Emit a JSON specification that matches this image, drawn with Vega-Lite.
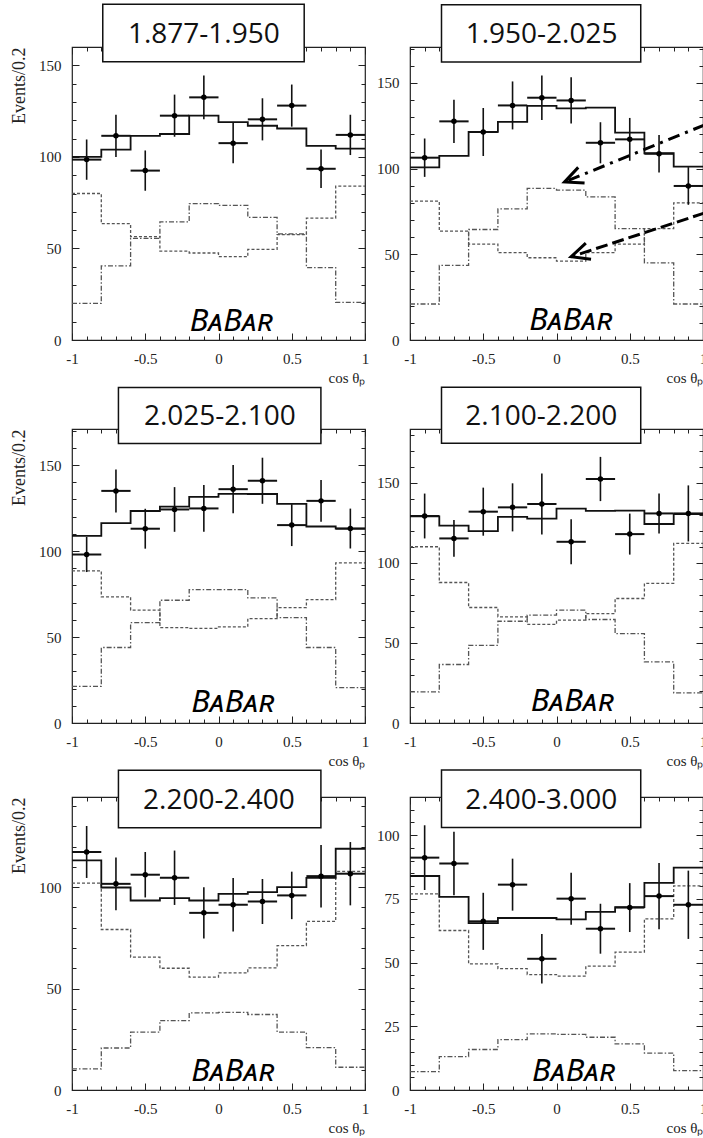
{
"$schema":"https://vega.github.io/schema/vega-lite/v6.json",
"background":"white",
"padding":{"left":9,"top":2,"right":0,"bottom":0},
"datasets":{
"h":[
{"p":1,"x":-1,"t":100,"a":80,"b":20},{"p":1,"x":-0.8,"t":104,"a":63.5,"b":40.5},{"p":1,"x":-0.6,"t":111.5,"a":56.5,"b":55.5},{"p":1,"x":-0.4,"t":112.5,"a":48.5,"b":64.5},{"p":1,"x":-0.2,"t":122.5,"a":47.5,"b":74.5},{"p":1,"x":0,"t":119,"a":45.5,"b":73.5},{"p":1,"x":0.2,"t":117,"a":49.5,"b":67},{"p":1,"x":0.4,"t":115.5,"a":57.5,"b":58},{"p":1,"x":0.6,"t":106,"a":66.5,"b":39.5},{"p":1,"x":0.8,"t":104.5,"a":84,"b":20.5},{"p":1,"x":1,"t":104.5,"a":84,"b":20.5},
{"p":2,"x":-1,"t":100.8,"a":81,"b":21},{"p":2,"x":-0.8,"t":107.5,"a":63.5,"b":43.5},{"p":2,"x":-0.6,"t":121.5,"a":56,"b":64.5},{"p":2,"x":-0.4,"t":127.3,"a":51,"b":76.5},{"p":2,"x":-0.2,"t":136.6,"a":48,"b":88.5},{"p":2,"x":0,"t":135.2,"a":46,"b":87.5},{"p":2,"x":0.2,"t":135.6,"a":51,"b":83.5},{"p":2,"x":0.4,"t":121,"a":56,"b":65},{"p":2,"x":0.6,"t":109,"a":65,"b":45},{"p":2,"x":0.8,"t":101.2,"a":80,"b":21},{"p":2,"x":1,"t":101.2,"a":80,"b":21},
{"p":3,"x":-1,"t":108.8,"a":88.5,"b":21.3},{"p":3,"x":-0.8,"t":116.2,"a":73.4,"b":43.9},{"p":3,"x":-0.6,"t":123.3,"a":65.6,"b":58.4},{"p":3,"x":-0.4,"t":125.8,"a":55.5,"b":71.4},{"p":3,"x":-0.2,"t":131.5,"a":55,"b":77.6},{"p":3,"x":0,"t":133.3,"a":55.9,"b":77.6},{"p":3,"x":0.2,"t":133.2,"a":60.7,"b":72.8},{"p":3,"x":0.4,"t":127.5,"a":67.1,"b":61.3},{"p":3,"x":0.6,"t":114.3,"a":71.8,"b":43.9},{"p":3,"x":0.8,"t":113.1,"a":93.1,"b":20.6},{"p":3,"x":1,"t":113.1,"a":93.1,"b":20.6},
{"p":4,"x":-1,"t":129,"a":110,"b":19.4},{"p":4,"x":-0.8,"t":123.2,"a":87.7,"b":36.5},{"p":4,"x":-0.6,"t":119.7,"a":72.1,"b":48.5},{"p":4,"x":-0.4,"t":128.6,"a":66.3,"b":63.5},{"p":4,"x":-0.2,"t":127.6,"a":61.5,"b":67.3},{"p":4,"x":0,"t":133.8,"a":64.2,"b":70.4},{"p":4,"x":0.2,"t":132.4,"a":68.3,"b":64.6},{"p":4,"x":0.4,"t":132.5,"a":77.7,"b":55.8},{"p":4,"x":0.6,"t":124.2,"a":87.1,"b":38.1},{"p":4,"x":0.8,"t":130.4,"a":112.1,"b":18.8},{"p":4,"x":1,"t":130.4,"a":112.1,"b":18.8},
{"p":5,"x":-1,"t":113.2,"a":102,"b":10.4},{"p":5,"x":-0.8,"t":99.8,"a":79.1,"b":20.7},{"p":5,"x":-0.6,"t":93.4,"a":65.5,"b":28.5},{"p":5,"x":-0.4,"t":94.6,"a":60,"b":34.2},{"p":5,"x":-0.2,"t":93.4,"a":55.6,"b":38},{"p":5,"x":0,"t":96.7,"a":57.7,"b":38.3},{"p":5,"x":0.2,"t":97.5,"a":60.2,"b":37.2},{"p":5,"x":0.4,"t":100,"a":71.2,"b":28.5},{"p":5,"x":0.6,"t":104.5,"a":83.1,"b":20.9},{"p":5,"x":0.8,"t":118.9,"a":107.7,"b":11.2},{"p":5,"x":1,"t":118.9,"a":107.7,"b":11.2},
{"p":6,"x":-1,"t":84,"a":77,"b":7.2},{"p":6,"x":-0.8,"t":75.8,"a":62.6,"b":13.1},{"p":6,"x":-0.6,"t":65.5,"a":49.5,"b":15.9},{"p":6,"x":-0.4,"t":67.5,"a":47.6,"b":19.8},{"p":6,"x":-0.2,"t":67.5,"a":45.3,"b":22},{"p":6,"x":0,"t":67,"a":44.7,"b":21.8},{"p":6,"x":0.2,"t":69.9,"a":48.6,"b":20.7},{"p":6,"x":0.4,"t":71.8,"a":54.1,"b":18.1},{"p":6,"x":0.6,"t":81.3,"a":67.2,"b":14.5},{"p":6,"x":0.8,"t":87.3,"a":80.1,"b":7.6},{"p":6,"x":1,"t":87.3,"a":80.1,"b":7.6}
],
"d":[
{"p":1,"x":-0.9,"y":98.5,"e":11,"ex":0.1},{"p":1,"x":-0.7,"y":111.5,"e":11.5,"ex":0.1},{"p":1,"x":-0.5,"y":92.5,"e":11,"ex":0.1},{"p":1,"x":-0.3,"y":122.5,"e":11.5,"ex":0.1},{"p":1,"x":-0.1,"y":132.5,"e":12,"ex":0.1},{"p":1,"x":0.1,"y":107.5,"e":11,"ex":0.1},{"p":1,"x":0.3,"y":120.5,"e":11.5,"ex":0.1},{"p":1,"x":0.5,"y":128,"e":11.5,"ex":0.1},{"p":1,"x":0.7,"y":93.5,"e":10.5,"ex":0.1},{"p":1,"x":0.9,"y":112,"e":11,"ex":0.1},
{"p":2,"x":-0.9,"y":106.4,"e":11.2,"ex":0.1},{"p":2,"x":-0.7,"y":127.6,"e":12.6,"ex":0.1},{"p":2,"x":-0.5,"y":121.4,"e":14,"ex":0.1},{"p":2,"x":-0.3,"y":136.9,"e":14,"ex":0.1},{"p":2,"x":-0.1,"y":141.4,"e":13,"ex":0.1},{"p":2,"x":0.1,"y":139.8,"e":13.5,"ex":0.1},{"p":2,"x":0.3,"y":115.1,"e":12,"ex":0.1},{"p":2,"x":0.5,"y":117.1,"e":12.5,"ex":0.1},{"p":2,"x":0.7,"y":108.7,"e":11,"ex":0.1},{"p":2,"x":0.9,"y":89.9,"e":11,"ex":0.1},
{"p":3,"x":-0.9,"y":98,"e":10.2,"ex":0.1},{"p":3,"x":-0.7,"y":135,"e":12.5,"ex":0.1},{"p":3,"x":-0.5,"y":113,"e":11.6,"ex":0.1},{"p":3,"x":-0.3,"y":124.2,"e":13,"ex":0.1},{"p":3,"x":-0.1,"y":124.8,"e":13.6,"ex":0.1},{"p":3,"x":0.1,"y":136,"e":14,"ex":0.1},{"p":3,"x":0.3,"y":140.9,"e":13.4,"ex":0.1},{"p":3,"x":0.5,"y":115.1,"e":12.2,"ex":0.1},{"p":3,"x":0.7,"y":129.2,"e":12.1,"ex":0.1},{"p":3,"x":0.9,"y":113.1,"e":11.6,"ex":0.1},
{"p":4,"x":-0.9,"y":129.2,"e":14,"ex":0.1},{"p":4,"x":-0.7,"y":115.2,"e":11.5,"ex":0.1},{"p":4,"x":-0.5,"y":131.9,"e":15,"ex":0.1},{"p":4,"x":-0.3,"y":134.6,"e":15,"ex":0.1},{"p":4,"x":-0.1,"y":136.7,"e":19,"ex":0.1},{"p":4,"x":0.1,"y":113.1,"e":14,"ex":0.1},{"p":4,"x":0.3,"y":152.3,"e":13.8,"ex":0.1},{"p":4,"x":0.5,"y":117.9,"e":12.8,"ex":0.1},{"p":4,"x":0.7,"y":130.8,"e":12.5,"ex":0.1},{"p":4,"x":0.9,"y":130.8,"e":17.5,"ex":0.1},
{"p":5,"x":-0.9,"y":117.3,"e":12.8,"ex":0.1},{"p":5,"x":-0.7,"y":101.6,"e":13,"ex":0.1},{"p":5,"x":-0.5,"y":106.1,"e":11.2,"ex":0.1},{"p":5,"x":-0.3,"y":104.6,"e":13.4,"ex":0.1},{"p":5,"x":-0.1,"y":87.3,"e":12.6,"ex":0.1},{"p":5,"x":0.1,"y":91.3,"e":13.2,"ex":0.1},{"p":5,"x":0.3,"y":92.9,"e":11.1,"ex":0.1},{"p":5,"x":0.5,"y":95.9,"e":11.7,"ex":0.1},{"p":5,"x":0.7,"y":105.4,"e":15.4,"ex":0.1},{"p":5,"x":0.9,"y":106.6,"e":15.6,"ex":0.1},
{"p":6,"x":-0.9,"y":91.2,"e":12.7,"ex":0.1},{"p":6,"x":-0.7,"y":88.9,"e":12.5,"ex":0.1},{"p":6,"x":-0.5,"y":66.2,"e":11.2,"ex":0.1},{"p":6,"x":-0.3,"y":80.6,"e":10.2,"ex":0.1},{"p":6,"x":-0.1,"y":51.5,"e":9.7,"ex":0.1},{"p":6,"x":0.1,"y":75.1,"e":10.2,"ex":0.1},{"p":6,"x":0.3,"y":63.3,"e":9.8,"ex":0.1},{"p":6,"x":0.5,"y":71.6,"e":9.6,"ex":0.1},{"p":6,"x":0.7,"y":76.1,"e":13,"ex":0.1},{"p":6,"x":0.9,"y":72.7,"e":13.4,"ex":0.1}
]
},
"spacing":-1,
"vconcat":[
{"hconcat":[
{"width":293,"height":293,"resolve":{"axis":{"x":"independent","y":"independent"}},"layer":[
{"data":{"name":"h"},"transform":[{"filter":"datum.p==1"}],"mark":{"type":"line","interpolate":"step-after","color":"#555","strokeWidth":1.3,"strokeDash":[3,2]},"encoding":{"x":{"field":"x","type":"quantitative","scale":{"domain":[-1,1],"nice":false},"axis":{"orient":"bottom","values":[-1,-0.9,-0.8,-0.7,-0.6,-0.5,-0.4,-0.3,-0.2,-0.1,0,0.1,0.2,0.3,0.4,0.5,0.6,0.7,0.8,0.9,1],"tickSize":-4,"labels":false,"title":null}},"y":{"field":"a","type":"quantitative","scale":{"domain":[0,160],"nice":false},"axis":{"orient":"left","values":[0,10,20,30,40,50,60,70,80,90,100,110,120,130,140,150],"tickSize":-4,"labels":false,"title":null}}}},
{"data":{"name":"h"},"transform":[{"filter":"datum.p==1"}],"mark":{"type":"line","interpolate":"step-after","color":"#555","strokeWidth":1.3,"strokeDash":[5,2,1.5,2]},"encoding":{"x":{"field":"x","type":"quantitative","scale":{"domain":[-1,1],"nice":false},"axis":{"orient":"top","values":[-1,-0.5,0,0.5,1],"tickSize":-7,"labels":false,"title":null}},"y":{"field":"b","type":"quantitative","scale":{"domain":[0,160],"nice":false},"axis":{"orient":"right","values":[0,50,100,150],"tickSize":-7,"labels":false,"title":null}}}},
{"data":{"name":"h"},"transform":[{"filter":"datum.p==1"}],"mark":{"type":"line","interpolate":"step-after","color":"#111","strokeWidth":1.8},"encoding":{"x":{"field":"x","type":"quantitative","scale":{"domain":[-1,1],"nice":false},"axis":{"orient":"bottom","values":[-1,-0.5,0,0.5,1],"tickSize":-7,"labelPadding":18,"format":"~g","labelExpr":"replace(datum.label,'−','-')","title":"cos θₚ","titleFontSize":15,"titleAnchor":"end","titlePadding":4}},"y":{"field":"t","type":"quantitative","scale":{"domain":[0,160],"nice":false},"axis":{"orient":"left","values":[0,50,100,150],"tickSize":-7,"labelPadding":18,"format":"d","title":"Events/0.2","titleFontSize":18,"titleAnchor":"end","titlePadding":10}}}},
{"data":{"name":"d"},"transform":[{"filter":"datum.p==1"}],"mark":{"type":"errorbar","color":"#111","thickness":1.6},"encoding":{"x":{"field":"x","type":"quantitative","axis":null},"y":{"field":"y","type":"quantitative","axis":null},"yError":{"field":"e"}}},
{"data":{"name":"d"},"transform":[{"filter":"datum.p==1"}],"mark":{"type":"errorbar","color":"#111","thickness":2},"encoding":{"x":{"field":"x","type":"quantitative","axis":null},"xError":{"field":"ex"},"y":{"field":"y","type":"quantitative","axis":null}}},
{"data":{"name":"d"},"transform":[{"filter":"datum.p==1"}],"mark":{"type":"point","filled":true,"color":"#000","size":30,"opacity":1},"encoding":{"x":{"field":"x","type":"quantitative","scale":{"domain":[-1,1],"nice":false},"axis":{"orient":"top","values":[-1,-0.9,-0.8,-0.7,-0.6,-0.5,-0.4,-0.3,-0.2,-0.1,0,0.1,0.2,0.3,0.4,0.5,0.6,0.7,0.8,0.9,1],"tickSize":-4,"labels":false,"title":null}},"y":{"field":"y","type":"quantitative","scale":{"domain":[0,160],"nice":false},"axis":{"orient":"right","values":[0,10,20,30,40,50,60,70,80,90,100,110,120,130,140,150],"tickSize":-4,"labels":false,"title":null}}}},
{"data":{"values":[{"lab":"1.877-1.950"}]},"mark":{"type":"rect","fill":"white","stroke":"#111","strokeWidth":1.5},"encoding":{"x":{"datum":-0.79,"type":"quantitative","axis":null},"x2":{"datum":0.585},"y":{"datum":183.3,"type":"quantitative","axis":null},"y2":{"datum":152}}},
{"data":{"values":[{"lab":"1.877-1.950"}]},"mark":{"type":"text","font":"Open Sans","fontSize":28,"color":"#111","align":"center","baseline":"middle"},"encoding":{"x":{"datum":-0.1,"type":"quantitative","axis":null},"y":{"datum":166.7,"type":"quantitative","axis":null},"text":{"field":"lab"}}},
{"data":{"values":[{"lab":"BᴀBᴀʀ"}]},"mark":{"type":"text","font":"Noto Sans","fontStyle":"italic","fontWeight":"normal","fontSize":31,"color":"#000","align":"center","baseline":"alphabetic"},"encoding":{"x":{"datum":0.09,"type":"quantitative","axis":null},"y":{"datum":5.1,"type":"quantitative","axis":null},"text":{"field":"lab"}}}
]},
{"width":293,"height":293,"resolve":{"axis":{"x":"independent","y":"independent"}},"layer":[
{"data":{"name":"h"},"transform":[{"filter":"datum.p==2"}],"mark":{"type":"line","interpolate":"step-after","color":"#555","strokeWidth":1.3,"strokeDash":[3,2]},"encoding":{"x":{"field":"x","type":"quantitative","scale":{"domain":[-1,1],"nice":false},"axis":{"orient":"bottom","values":[-1,-0.9,-0.8,-0.7,-0.6,-0.5,-0.4,-0.3,-0.2,-0.1,0,0.1,0.2,0.3,0.4,0.5,0.6,0.7,0.8,0.9,1],"tickSize":-4,"labels":false,"title":null}},"y":{"field":"a","type":"quantitative","scale":{"domain":[0,171],"nice":false},"axis":{"orient":"left","values":[0,10,20,30,40,50,60,70,80,90,100,110,120,130,140,150,160,170],"tickSize":-4,"labels":false,"title":null}}}},
{"data":{"name":"h"},"transform":[{"filter":"datum.p==2"}],"mark":{"type":"line","interpolate":"step-after","color":"#555","strokeWidth":1.3,"strokeDash":[5,2,1.5,2]},"encoding":{"x":{"field":"x","type":"quantitative","scale":{"domain":[-1,1],"nice":false},"axis":{"orient":"top","values":[-1,-0.5,0,0.5,1],"tickSize":-7,"labels":false,"title":null}},"y":{"field":"b","type":"quantitative","scale":{"domain":[0,171],"nice":false},"axis":{"orient":"right","values":[0,50,100,150],"tickSize":-7,"labels":false,"title":null}}}},
{"data":{"name":"h"},"transform":[{"filter":"datum.p==2"}],"mark":{"type":"line","interpolate":"step-after","color":"#111","strokeWidth":1.8},"encoding":{"x":{"field":"x","type":"quantitative","scale":{"domain":[-1,1],"nice":false},"axis":{"orient":"bottom","values":[-1,-0.5,0,0.5,1],"tickSize":-7,"labelPadding":18,"format":"~g","labelExpr":"replace(datum.label,'−','-')","title":"cos θₚ","titleFontSize":15,"titleAnchor":"end","titlePadding":4}},"y":{"field":"t","type":"quantitative","scale":{"domain":[0,171],"nice":false},"axis":{"orient":"left","values":[0,50,100,150],"tickSize":-7,"labelPadding":18,"format":"d","title":null}}}},
{"data":{"name":"d"},"transform":[{"filter":"datum.p==2"}],"mark":{"type":"errorbar","color":"#111","thickness":1.6},"encoding":{"x":{"field":"x","type":"quantitative","axis":null},"y":{"field":"y","type":"quantitative","axis":null},"yError":{"field":"e"}}},
{"data":{"name":"d"},"transform":[{"filter":"datum.p==2"}],"mark":{"type":"errorbar","color":"#111","thickness":2},"encoding":{"x":{"field":"x","type":"quantitative","axis":null},"xError":{"field":"ex"},"y":{"field":"y","type":"quantitative","axis":null}}},
{"data":{"name":"d"},"transform":[{"filter":"datum.p==2"}],"mark":{"type":"point","filled":true,"color":"#000","size":30,"opacity":1},"encoding":{"x":{"field":"x","type":"quantitative","scale":{"domain":[-1,1],"nice":false},"axis":{"orient":"top","values":[-1,-0.9,-0.8,-0.7,-0.6,-0.5,-0.4,-0.3,-0.2,-0.1,0,0.1,0.2,0.3,0.4,0.5,0.6,0.7,0.8,0.9,1],"tickSize":-4,"labels":false,"title":null}},"y":{"field":"y","type":"quantitative","scale":{"domain":[0,171],"nice":false},"axis":{"orient":"right","values":[0,10,20,30,40,50,60,70,80,90,100,110,120,130,140,150,160,170],"tickSize":-4,"labels":false,"title":null}}}},
{"data":{"values":[{"lab":"1.950-2.025"}]},"mark":{"type":"rect","fill":"white","stroke":"#111","strokeWidth":1.5},"encoding":{"x":{"datum":-0.785,"type":"quantitative","axis":null},"x2":{"datum":0.575},"y":{"datum":195.6,"type":"quantitative","axis":null},"y2":{"datum":162.3}}},
{"data":{"values":[{"lab":"1.950-2.025"}]},"mark":{"type":"text","font":"Open Sans","fontSize":28,"color":"#111","align":"center","baseline":"middle"},"encoding":{"x":{"datum":-0.102,"type":"quantitative","axis":null},"y":{"datum":178,"type":"quantitative","axis":null},"text":{"field":"lab"}}},
{"data":{"values":[{"lab":"BᴀBᴀʀ"}]},"mark":{"type":"text","font":"Noto Sans","fontStyle":"italic","fontWeight":"normal","fontSize":31,"color":"#000","align":"center","baseline":"alphabetic"},"encoding":{"x":{"datum":0.1,"type":"quantitative","axis":null},"y":{"datum":5.8,"type":"quantitative","axis":null},"text":{"field":"lab"}}},
{"data":{"values":[{"k":"dash-dot"}]},"mark":{"type":"rule","color":"#000","strokeWidth":3,"strokeDash":[12,6,3,6]},"encoding":{"x":{"datum":1.01,"type":"quantitative","axis":null},"y":{"datum":125.5,"type":"quantitative","axis":null},"x2":{"datum":0.055},"y2":{"datum":92.2}}},
{"data":{"values":[{"k":"dashed"}]},"mark":{"type":"rule","color":"#000","strokeWidth":3,"strokeDash":[12,5]},"encoding":{"x":{"datum":1.01,"type":"quantitative","axis":null},"y":{"datum":74.1,"type":"quantitative","axis":null},"x2":{"datum":0.1},"y2":{"datum":48.6}}},
{"data":{"values":[{"k":"dash-dot"}]},"mark":{"type":"point","shape":"M2,-0.93L0,0L2,0.93","filled":false,"stroke":"#000","strokeWidth":3,"size":330,"angle":-22,"opacity":1},"encoding":{"x":{"datum":0.055,"type":"quantitative","axis":null},"y":{"datum":92.2,"type":"quantitative","axis":null}}},
{"data":{"values":[{"k":"dashed"}]},"mark":{"type":"point","shape":"M2,-0.93L0,0L2,0.93","filled":false,"stroke":"#000","strokeWidth":3,"size":330,"angle":-18,"opacity":1},"encoding":{"x":{"datum":0.1,"type":"quantitative","axis":null},"y":{"datum":48.6,"type":"quantitative","axis":null}}}
]}
],"spacing":45,"bounds":"flush"},
{"hconcat":[
{"width":293,"height":294,"resolve":{"axis":{"x":"independent","y":"independent"}},"layer":[
{"data":{"name":"h"},"transform":[{"filter":"datum.p==3"}],"mark":{"type":"line","interpolate":"step-after","color":"#555","strokeWidth":1.3,"strokeDash":[3,2]},"encoding":{"x":{"field":"x","type":"quantitative","scale":{"domain":[-1,1],"nice":false},"axis":{"orient":"bottom","values":[-1,-0.9,-0.8,-0.7,-0.6,-0.5,-0.4,-0.3,-0.2,-0.1,0,0.1,0.2,0.3,0.4,0.5,0.6,0.7,0.8,0.9,1],"tickSize":-4,"labels":false,"title":null}},"y":{"field":"a","type":"quantitative","scale":{"domain":[0,171],"nice":false},"axis":{"orient":"left","values":[0,10,20,30,40,50,60,70,80,90,100,110,120,130,140,150,160,170],"tickSize":-4,"labels":false,"title":null}}}},
{"data":{"name":"h"},"transform":[{"filter":"datum.p==3"}],"mark":{"type":"line","interpolate":"step-after","color":"#555","strokeWidth":1.3,"strokeDash":[5,2,1.5,2]},"encoding":{"x":{"field":"x","type":"quantitative","scale":{"domain":[-1,1],"nice":false},"axis":{"orient":"top","values":[-1,-0.5,0,0.5,1],"tickSize":-7,"labels":false,"title":null}},"y":{"field":"b","type":"quantitative","scale":{"domain":[0,171],"nice":false},"axis":{"orient":"right","values":[0,50,100,150],"tickSize":-7,"labels":false,"title":null}}}},
{"data":{"name":"h"},"transform":[{"filter":"datum.p==3"}],"mark":{"type":"line","interpolate":"step-after","color":"#111","strokeWidth":1.8},"encoding":{"x":{"field":"x","type":"quantitative","scale":{"domain":[-1,1],"nice":false},"axis":{"orient":"bottom","values":[-1,-0.5,0,0.5,1],"tickSize":-7,"labelPadding":18,"format":"~g","labelExpr":"replace(datum.label,'−','-')","title":"cos θₚ","titleFontSize":15,"titleAnchor":"end","titlePadding":4}},"y":{"field":"t","type":"quantitative","scale":{"domain":[0,171],"nice":false},"axis":{"orient":"left","values":[0,50,100,150],"tickSize":-7,"labelPadding":18,"format":"d","title":"Events/0.2","titleFontSize":18,"titleAnchor":"end","titlePadding":10}}}},
{"data":{"name":"d"},"transform":[{"filter":"datum.p==3"}],"mark":{"type":"errorbar","color":"#111","thickness":1.6},"encoding":{"x":{"field":"x","type":"quantitative","axis":null},"y":{"field":"y","type":"quantitative","axis":null},"yError":{"field":"e"}}},
{"data":{"name":"d"},"transform":[{"filter":"datum.p==3"}],"mark":{"type":"errorbar","color":"#111","thickness":2},"encoding":{"x":{"field":"x","type":"quantitative","axis":null},"xError":{"field":"ex"},"y":{"field":"y","type":"quantitative","axis":null}}},
{"data":{"name":"d"},"transform":[{"filter":"datum.p==3"}],"mark":{"type":"point","filled":true,"color":"#000","size":30,"opacity":1},"encoding":{"x":{"field":"x","type":"quantitative","scale":{"domain":[-1,1],"nice":false},"axis":{"orient":"top","values":[-1,-0.9,-0.8,-0.7,-0.6,-0.5,-0.4,-0.3,-0.2,-0.1,0,0.1,0.2,0.3,0.4,0.5,0.6,0.7,0.8,0.9,1],"tickSize":-4,"labels":false,"title":null}},"y":{"field":"y","type":"quantitative","scale":{"domain":[0,171],"nice":false},"axis":{"orient":"right","values":[0,10,20,30,40,50,60,70,80,90,100,110,120,130,140,150,160,170],"tickSize":-4,"labels":false,"title":null}}}},
{"data":{"values":[{"lab":"2.025-2.100"}]},"mark":{"type":"rect","fill":"white","stroke":"#111","strokeWidth":1.5},"encoding":{"x":{"datum":-0.683,"type":"quantitative","axis":null},"x2":{"datum":0.699},"y":{"datum":195.2,"type":"quantitative","axis":null},"y2":{"datum":162.6}}},
{"data":{"values":[{"lab":"2.025-2.100"}]},"mark":{"type":"text","font":"Open Sans","fontSize":28,"color":"#111","align":"center","baseline":"middle"},"encoding":{"x":{"datum":0.009,"type":"quantitative","axis":null},"y":{"datum":177.8,"type":"quantitative","axis":null},"text":{"field":"lab"}}},
{"data":{"values":[{"lab":"BᴀBᴀʀ"}]},"mark":{"type":"text","font":"Noto Sans","fontStyle":"italic","fontWeight":"normal","fontSize":31,"color":"#000","align":"center","baseline":"alphabetic"},"encoding":{"x":{"datum":0.1,"type":"quantitative","axis":null},"y":{"datum":6.4,"type":"quantitative","axis":null},"text":{"field":"lab"}}}
]},
{"width":293,"height":294,"resolve":{"axis":{"x":"independent","y":"independent"}},"layer":[
{"data":{"name":"h"},"transform":[{"filter":"datum.p==4"}],"mark":{"type":"line","interpolate":"step-after","color":"#555","strokeWidth":1.3,"strokeDash":[3,2]},"encoding":{"x":{"field":"x","type":"quantitative","scale":{"domain":[-1,1],"nice":false},"axis":{"orient":"bottom","values":[-1,-0.9,-0.8,-0.7,-0.6,-0.5,-0.4,-0.3,-0.2,-0.1,0,0.1,0.2,0.3,0.4,0.5,0.6,0.7,0.8,0.9,1],"tickSize":-4,"labels":false,"title":null}},"y":{"field":"a","type":"quantitative","scale":{"domain":[0,183.5],"nice":false},"axis":{"orient":"left","values":[0,10,20,30,40,50,60,70,80,90,100,110,120,130,140,150,160,170,180],"tickSize":-4,"labels":false,"title":null}}}},
{"data":{"name":"h"},"transform":[{"filter":"datum.p==4"}],"mark":{"type":"line","interpolate":"step-after","color":"#555","strokeWidth":1.3,"strokeDash":[5,2,1.5,2]},"encoding":{"x":{"field":"x","type":"quantitative","scale":{"domain":[-1,1],"nice":false},"axis":{"orient":"top","values":[-1,-0.5,0,0.5,1],"tickSize":-7,"labels":false,"title":null}},"y":{"field":"b","type":"quantitative","scale":{"domain":[0,183.5],"nice":false},"axis":{"orient":"right","values":[0,50,100,150],"tickSize":-7,"labels":false,"title":null}}}},
{"data":{"name":"h"},"transform":[{"filter":"datum.p==4"}],"mark":{"type":"line","interpolate":"step-after","color":"#111","strokeWidth":1.8},"encoding":{"x":{"field":"x","type":"quantitative","scale":{"domain":[-1,1],"nice":false},"axis":{"orient":"bottom","values":[-1,-0.5,0,0.5,1],"tickSize":-7,"labelPadding":18,"format":"~g","labelExpr":"replace(datum.label,'−','-')","title":"cos θₚ","titleFontSize":15,"titleAnchor":"end","titlePadding":4}},"y":{"field":"t","type":"quantitative","scale":{"domain":[0,183.5],"nice":false},"axis":{"orient":"left","values":[0,50,100,150],"tickSize":-7,"labelPadding":18,"format":"d","title":null}}}},
{"data":{"name":"d"},"transform":[{"filter":"datum.p==4"}],"mark":{"type":"errorbar","color":"#111","thickness":1.6},"encoding":{"x":{"field":"x","type":"quantitative","axis":null},"y":{"field":"y","type":"quantitative","axis":null},"yError":{"field":"e"}}},
{"data":{"name":"d"},"transform":[{"filter":"datum.p==4"}],"mark":{"type":"errorbar","color":"#111","thickness":2},"encoding":{"x":{"field":"x","type":"quantitative","axis":null},"xError":{"field":"ex"},"y":{"field":"y","type":"quantitative","axis":null}}},
{"data":{"name":"d"},"transform":[{"filter":"datum.p==4"}],"mark":{"type":"point","filled":true,"color":"#000","size":30,"opacity":1},"encoding":{"x":{"field":"x","type":"quantitative","scale":{"domain":[-1,1],"nice":false},"axis":{"orient":"top","values":[-1,-0.9,-0.8,-0.7,-0.6,-0.5,-0.4,-0.3,-0.2,-0.1,0,0.1,0.2,0.3,0.4,0.5,0.6,0.7,0.8,0.9,1],"tickSize":-4,"labels":false,"title":null}},"y":{"field":"y","type":"quantitative","scale":{"domain":[0,183.5],"nice":false},"axis":{"orient":"right","values":[0,10,20,30,40,50,60,70,80,90,100,110,120,130,140,150,160,170,180],"tickSize":-4,"labels":false,"title":null}}}},
{"data":{"values":[{"lab":"2.100-2.200"}]},"mark":{"type":"rect","fill":"white","stroke":"#111","strokeWidth":1.5},"encoding":{"x":{"datum":-0.785,"type":"quantitative","axis":null},"x2":{"datum":0.575},"y":{"datum":209.6,"type":"quantitative","axis":null},"y2":{"datum":174.6}}},
{"data":{"values":[{"lab":"2.100-2.200"}]},"mark":{"type":"text","font":"Open Sans","fontSize":28,"color":"#111","align":"center","baseline":"middle"},"encoding":{"x":{"datum":-0.104,"type":"quantitative","axis":null},"y":{"datum":190.9,"type":"quantitative","axis":null},"text":{"field":"lab"}}},
{"data":{"values":[{"lab":"BᴀBᴀʀ"}]},"mark":{"type":"text","font":"Noto Sans","fontStyle":"italic","fontWeight":"normal","fontSize":31,"color":"#000","align":"center","baseline":"alphabetic"},"encoding":{"x":{"datum":0.11,"type":"quantitative","axis":null},"y":{"datum":7.5,"type":"quantitative","axis":null},"text":{"field":"lab"}}}
]}
],"spacing":45,"bounds":"flush"},
{"hconcat":[
{"width":293,"height":293,"resolve":{"axis":{"x":"independent","y":"independent"}},"layer":[
{"data":{"name":"h"},"transform":[{"filter":"datum.p==5"}],"mark":{"type":"line","interpolate":"step-after","color":"#555","strokeWidth":1.3,"strokeDash":[3,2]},"encoding":{"x":{"field":"x","type":"quantitative","scale":{"domain":[-1,1],"nice":false},"axis":{"orient":"bottom","values":[-1,-0.9,-0.8,-0.7,-0.6,-0.5,-0.4,-0.3,-0.2,-0.1,0,0.1,0.2,0.3,0.4,0.5,0.6,0.7,0.8,0.9,1],"tickSize":-4,"labels":false,"title":null}},"y":{"field":"a","type":"quantitative","scale":{"domain":[0,144.4],"nice":false},"axis":{"orient":"left","values":[0,10,20,30,40,50,60,70,80,90,100,110,120,130,140],"tickSize":-4,"labels":false,"title":null}}}},
{"data":{"name":"h"},"transform":[{"filter":"datum.p==5"}],"mark":{"type":"line","interpolate":"step-after","color":"#555","strokeWidth":1.3,"strokeDash":[5,2,1.5,2]},"encoding":{"x":{"field":"x","type":"quantitative","scale":{"domain":[-1,1],"nice":false},"axis":{"orient":"top","values":[-1,-0.5,0,0.5,1],"tickSize":-7,"labels":false,"title":null}},"y":{"field":"b","type":"quantitative","scale":{"domain":[0,144.4],"nice":false},"axis":{"orient":"right","values":[0,50,100],"tickSize":-7,"labels":false,"title":null}}}},
{"data":{"name":"h"},"transform":[{"filter":"datum.p==5"}],"mark":{"type":"line","interpolate":"step-after","color":"#111","strokeWidth":1.8},"encoding":{"x":{"field":"x","type":"quantitative","scale":{"domain":[-1,1],"nice":false},"axis":{"orient":"bottom","values":[-1,-0.5,0,0.5,1],"tickSize":-7,"labelPadding":18,"format":"~g","labelExpr":"replace(datum.label,'−','-')","title":"cos θₚ","titleFontSize":15,"titleAnchor":"end","titlePadding":4}},"y":{"field":"t","type":"quantitative","scale":{"domain":[0,144.4],"nice":false},"axis":{"orient":"left","values":[0,50,100],"tickSize":-7,"labelPadding":18,"format":"d","title":"Events/0.2","titleFontSize":18,"titleAnchor":"end","titlePadding":10}}}},
{"data":{"name":"d"},"transform":[{"filter":"datum.p==5"}],"mark":{"type":"errorbar","color":"#111","thickness":1.6},"encoding":{"x":{"field":"x","type":"quantitative","axis":null},"y":{"field":"y","type":"quantitative","axis":null},"yError":{"field":"e"}}},
{"data":{"name":"d"},"transform":[{"filter":"datum.p==5"}],"mark":{"type":"errorbar","color":"#111","thickness":2},"encoding":{"x":{"field":"x","type":"quantitative","axis":null},"xError":{"field":"ex"},"y":{"field":"y","type":"quantitative","axis":null}}},
{"data":{"name":"d"},"transform":[{"filter":"datum.p==5"}],"mark":{"type":"point","filled":true,"color":"#000","size":30,"opacity":1},"encoding":{"x":{"field":"x","type":"quantitative","scale":{"domain":[-1,1],"nice":false},"axis":{"orient":"top","values":[-1,-0.9,-0.8,-0.7,-0.6,-0.5,-0.4,-0.3,-0.2,-0.1,0,0.1,0.2,0.3,0.4,0.5,0.6,0.7,0.8,0.9,1],"tickSize":-4,"labels":false,"title":null}},"y":{"field":"y","type":"quantitative","scale":{"domain":[0,144.4],"nice":false},"axis":{"orient":"right","values":[0,10,20,30,40,50,60,70,80,90,100,110,120,130,140],"tickSize":-4,"labels":false,"title":null}}}},
{"data":{"values":[{"lab":"2.200-2.400"}]},"mark":{"type":"rect","fill":"white","stroke":"#111","strokeWidth":1.5},"encoding":{"x":{"datum":-0.683,"type":"quantitative","axis":null},"x2":{"datum":0.699},"y":{"datum":157.6,"type":"quantitative","axis":null},"y2":{"datum":129.3}}},
{"data":{"values":[{"lab":"2.200-2.400"}]},"mark":{"type":"text","font":"Open Sans","fontSize":28,"color":"#111","align":"center","baseline":"middle"},"encoding":{"x":{"datum":0.003,"type":"quantitative","axis":null},"y":{"datum":142.3,"type":"quantitative","axis":null},"text":{"field":"lab"}}},
{"data":{"values":[{"lab":"BᴀBᴀʀ"}]},"mark":{"type":"text","font":"Noto Sans","fontStyle":"italic","fontWeight":"normal","fontSize":31,"color":"#000","align":"center","baseline":"alphabetic"},"encoding":{"x":{"datum":0.1,"type":"quantitative","axis":null},"y":{"datum":4.6,"type":"quantitative","axis":null},"text":{"field":"lab"}}}
]},
{"width":293,"height":293,"resolve":{"axis":{"x":"independent","y":"independent"}},"layer":[
{"data":{"name":"h"},"transform":[{"filter":"datum.p==6"}],"mark":{"type":"line","interpolate":"step-after","color":"#555","strokeWidth":1.3,"strokeDash":[3,2]},"encoding":{"x":{"field":"x","type":"quantitative","scale":{"domain":[-1,1],"nice":false},"axis":{"orient":"bottom","values":[-1,-0.9,-0.8,-0.7,-0.6,-0.5,-0.4,-0.3,-0.2,-0.1,0,0.1,0.2,0.3,0.4,0.5,0.6,0.7,0.8,0.9,1],"tickSize":-4,"labels":false,"title":null}},"y":{"field":"a","type":"quantitative","scale":{"domain":[0,115],"nice":false},"axis":{"orient":"left","values":[0,5,10,15,20,25,30,35,40,45,50,55,60,65,70,75,80,85,90,95,100,105,110],"tickSize":-4,"labels":false,"title":null}}}},
{"data":{"name":"h"},"transform":[{"filter":"datum.p==6"}],"mark":{"type":"line","interpolate":"step-after","color":"#555","strokeWidth":1.3,"strokeDash":[5,2,1.5,2]},"encoding":{"x":{"field":"x","type":"quantitative","scale":{"domain":[-1,1],"nice":false},"axis":{"orient":"top","values":[-1,-0.5,0,0.5,1],"tickSize":-7,"labels":false,"title":null}},"y":{"field":"b","type":"quantitative","scale":{"domain":[0,115],"nice":false},"axis":{"orient":"right","values":[0,25,50,75,100],"tickSize":-7,"labels":false,"title":null}}}},
{"data":{"name":"h"},"transform":[{"filter":"datum.p==6"}],"mark":{"type":"line","interpolate":"step-after","color":"#111","strokeWidth":1.8},"encoding":{"x":{"field":"x","type":"quantitative","scale":{"domain":[-1,1],"nice":false},"axis":{"orient":"bottom","values":[-1,-0.5,0,0.5,1],"tickSize":-7,"labelPadding":18,"format":"~g","labelExpr":"replace(datum.label,'−','-')","title":"cos θₚ","titleFontSize":15,"titleAnchor":"end","titlePadding":4}},"y":{"field":"t","type":"quantitative","scale":{"domain":[0,115],"nice":false},"axis":{"orient":"left","values":[0,25,50,75,100],"tickSize":-7,"labelPadding":18,"format":"d","title":null}}}},
{"data":{"name":"d"},"transform":[{"filter":"datum.p==6"}],"mark":{"type":"errorbar","color":"#111","thickness":1.6},"encoding":{"x":{"field":"x","type":"quantitative","axis":null},"y":{"field":"y","type":"quantitative","axis":null},"yError":{"field":"e"}}},
{"data":{"name":"d"},"transform":[{"filter":"datum.p==6"}],"mark":{"type":"errorbar","color":"#111","thickness":2},"encoding":{"x":{"field":"x","type":"quantitative","axis":null},"xError":{"field":"ex"},"y":{"field":"y","type":"quantitative","axis":null}}},
{"data":{"name":"d"},"transform":[{"filter":"datum.p==6"}],"mark":{"type":"point","filled":true,"color":"#000","size":30,"opacity":1},"encoding":{"x":{"field":"x","type":"quantitative","scale":{"domain":[-1,1],"nice":false},"axis":{"orient":"top","values":[-1,-0.9,-0.8,-0.7,-0.6,-0.5,-0.4,-0.3,-0.2,-0.1,0,0.1,0.2,0.3,0.4,0.5,0.6,0.7,0.8,0.9,1],"tickSize":-4,"labels":false,"title":null}},"y":{"field":"y","type":"quantitative","scale":{"domain":[0,115],"nice":false},"axis":{"orient":"right","values":[0,5,10,15,20,25,30,35,40,45,50,55,60,65,70,75,80,85,90,95,100,105,110],"tickSize":-4,"labels":false,"title":null}}}},
{"data":{"values":[{"lab":"2.400-3.000"}]},"mark":{"type":"rect","fill":"white","stroke":"#111","strokeWidth":1.5},"encoding":{"x":{"datum":-0.785,"type":"quantitative","axis":null},"x2":{"datum":0.575},"y":{"datum":125.6,"type":"quantitative","axis":null},"y2":{"datum":103}}},
{"data":{"values":[{"lab":"2.400-3.000"}]},"mark":{"type":"text","font":"Open Sans","fontSize":28,"color":"#111","align":"center","baseline":"middle"},"encoding":{"x":{"datum":-0.104,"type":"quantitative","axis":null},"y":{"datum":113.4,"type":"quantitative","axis":null},"text":{"field":"lab"}}},
{"data":{"values":[{"lab":"BᴀBᴀʀ"}]},"mark":{"type":"text","font":"Noto Sans","fontStyle":"italic","fontWeight":"normal","fontSize":31,"color":"#000","align":"center","baseline":"alphabetic"},"encoding":{"x":{"datum":0.12,"type":"quantitative","axis":null},"y":{"datum":3.7,"type":"quantitative","axis":null},"text":{"field":"lab"}}}
]}
],"spacing":45,"bounds":"flush"}
],
"config":{
"view":{"stroke":"#222","strokeWidth":1.2},
"axis":{"domain":false,"grid":false,"ticks":true,"tickColor":"#222","tickWidth":1,"labelFont":"Liberation Serif","labelFontSize":15,"labelColor":"#222","titleFont":"Liberation Serif","titleFontWeight":"normal","titleColor":"#222","labelFlush":false,"labelOverlap":false}
}
}
